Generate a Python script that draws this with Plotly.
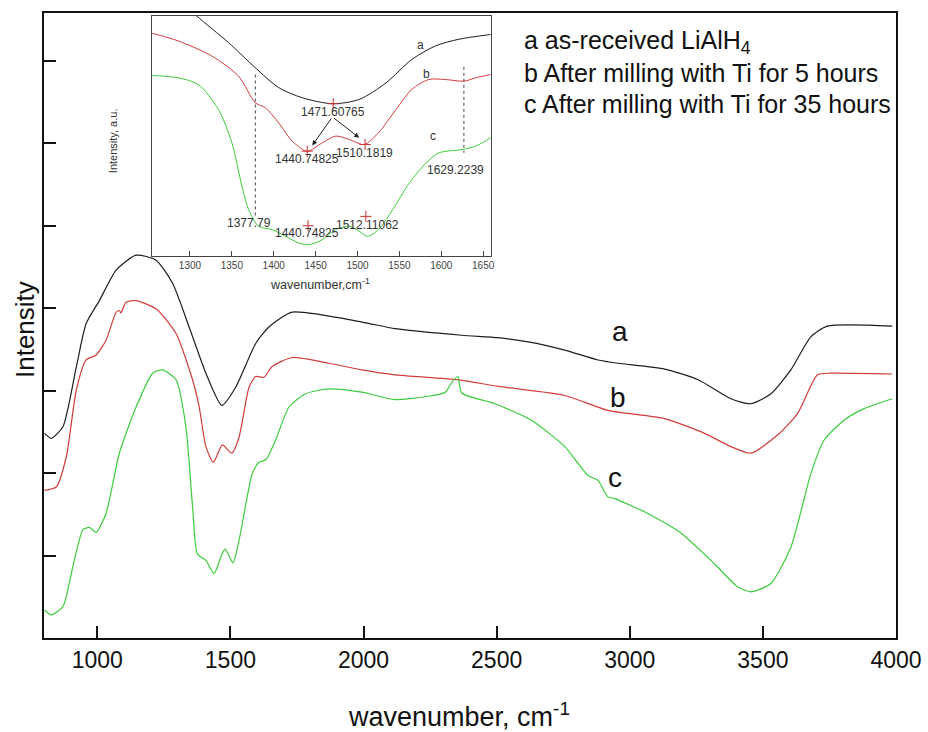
import plotly.graph_objects as go

# ---------------- main spectra (wavenumber cm-1, arbitrary intensity) ----------------
wn_a = [802, 827, 871, 921, 958, 1008, 1071, 1146, 1221, 1283, 1345, 1408, 1468, 1520, 1595,
        1645, 1732, 1994, 2119, 2369, 2506, 2619, 2756, 2881, 2956, 3131, 3257, 3380, 3455,
        3530, 3605, 3680, 3742, 3986]
int_a = [2.48, 2.42, 2.56, 3.28, 3.81, 4.09, 4.46, 4.64, 4.58, 4.30, 3.77, 3.21, 2.82, 3.04, 3.57,
         3.77, 3.95, 3.83, 3.75, 3.67, 3.64, 3.59, 3.49, 3.37, 3.33, 3.26, 3.13, 2.90, 2.84,
         2.96, 3.25, 3.65, 3.78, 3.78]

wn_b = [802, 846, 884, 921, 958, 996, 1033, 1071, 1083, 1089, 1108, 1146, 1221, 1296, 1358,
        1383, 1408, 1436, 1470, 1505, 1533, 1570, 1595, 1626, 1657, 1732, 1870, 1994, 2119,
        2357, 2506, 2756, 2918, 3131, 3281, 3380, 3455, 3555, 3630, 3705, 3755, 3986]
int_b = [1.79, 1.83, 2.20, 3.00, 3.37, 3.43, 3.61, 3.95, 3.97, 3.94, 4.07, 4.09, 3.99, 3.69, 3.13,
         2.80, 2.32, 2.13, 2.34, 2.24, 2.44, 3.04, 3.17, 3.16, 3.29, 3.40, 3.33, 3.25, 3.19,
         3.13, 3.05, 2.94, 2.76, 2.66, 2.48, 2.32, 2.24, 2.46, 2.72, 3.19, 3.21, 3.20]

wn_c = [802, 827, 871, 908, 946, 970, 996, 1033, 1083, 1146, 1208, 1245, 1296, 1333, 1358, 1376,
        1408, 1439, 1464, 1480, 1510, 1533, 1582, 1607, 1633, 1670, 1720, 1782, 1870, 1994,
        2119, 2244, 2307, 2332, 2354, 2369, 2494, 2631, 2756, 2843, 2881, 2918, 2943, 3068,
        3193, 3318, 3405, 3455, 3530, 3605, 3680, 3730, 3805, 3880, 3986]
int_c = [0.34, 0.28, 0.38, 0.86, 1.31, 1.34, 1.28, 1.51, 2.24, 2.80, 3.21, 3.25, 3.13, 2.56, 1.59, 1.02,
         0.94, 0.78, 0.98, 1.08, 0.91, 1.19, 1.99, 2.13, 2.16, 2.40, 2.80, 2.96, 3.02, 2.98,
         2.89, 2.93, 2.98, 3.10, 3.17, 2.97, 2.84, 2.64, 2.32, 1.97, 1.91, 1.71, 1.69, 1.51,
         1.27, 0.90, 0.62, 0.56, 0.66, 1.10, 1.99, 2.40, 2.64, 2.78, 2.90]

curve_labels = ["a", "b", "c"]
curve_label_wn = [2963, 2956, 2945]
curve_label_int = [3.71, 2.92, 1.94]

x_ticks = [1000, 1500, 2000, 2500, 3000, 3500, 4000]
y_ticks = [1, 2, 3, 4, 5, 6, 7]

legend_lines = ["a as-received LiAlH<sub>4</sub>",
                "b After milling with Ti for 5 hours",
                "c After milling with Ti for 35 hours"]

# ---------------- inset (zoom 1255-1660 cm-1) ----------------
in_wn_a = [1290, 1308, 1346, 1378, 1406, 1434, 1470, 1502, 1534, 1565, 1593, 1621, 1659]
in_int_a = [106, 100, 88.9, 78.4, 70.1, 65.9, 63.4, 65.2, 72.1, 81.9, 87.5, 90.3, 92.3]

in_wn_b = [1255, 1286, 1326, 1358, 1378, 1390, 1406, 1422, 1440, 1458, 1474, 1490, 1508,
           1525, 1546, 1565, 1585, 1605, 1627, 1641, 1659]
in_int_b = [92.8, 89.6, 83.3, 74.9, 63.8, 61.7, 55.4, 47.8, 43.6, 47.1, 49.9, 48.5, 46.4,
            51.3, 61.0, 69.4, 73.5, 73.5, 72.8, 74.2, 75.6]

in_wn_c = [1255, 1286, 1310, 1334, 1350, 1362, 1370, 1382, 1398, 1414, 1430, 1442, 1458,
           1474, 1490, 1502, 1512, 1525, 1542, 1562, 1582, 1597, 1625, 1641, 1659]
in_int_c = [75.2, 74.2, 71.4, 61.0, 47.1, 29.0, 19.2, 12.3, 10.9, 8.1, 5.3, 4.6, 6.7,
            10.9, 12.3, 10.2, 8.1, 10.9, 19.2, 30.4, 38.7, 42.9, 44.3, 45.7, 49.2]

peak_wn = [1471, 1440, 1509, 1441, 1510]
peak_int = [63.4, 43.6, 46.4, 12.5, 16.4]

peak_text = ["1471.60765", "1440.74825", "1510.1819", "1629.2239", "1377.79", "1440.74825", "1512.11062"]
peak_text_wn = [1471, 1440, 1508, 1617, 1370, 1440, 1512]
peak_text_int = [59.9, 40.4, 42.9, 35.9, 13.6, 9.5, 13.0]

dash1_wn = [1378, 1378]
dash1_int = [75.6, 16.4]
dash2_wn = [1627, 1627]
dash2_int = [78.8, 42.9]

arrow_from = (1470, 57.9)
arrow_to_wn = [1446, 1502]
arrow_to_int = [46.0, 49.2]

in_labels = ["a", "b", "c"]
in_label_wn = [1575, 1582, 1590]
in_label_int = [87.7, 75.6, 49.9]

in_x_ticks = [1300, 1350, 1400, 1450, 1500, 1550, 1600, 1650]

BLACK = "#1e1e1e"
RED = "#d23c3c"
GREEN = "#3ccc3c"
FONT = "Liberation Sans, Arial, sans-serif"

fig = go.Figure()
for x, y, c in [(wn_a, int_a, BLACK), (wn_b, int_b, RED), (wn_c, int_c, GREEN)]:
    fig.add_trace(go.Scatter(x=x, y=y, mode="lines", line=dict(color=c, width=1.2, shape="spline", smoothing=0.6),
                             xaxis="x", yaxis="y", showlegend=False, hoverinfo="skip"))

for x, y, c in [(in_wn_a, in_int_a, BLACK), (in_wn_b, in_int_b, RED), (in_wn_c, in_int_c, GREEN)]:
    fig.add_trace(go.Scatter(x=x, y=y, mode="lines", line=dict(color=c, width=1, shape="spline", smoothing=0.8),
                             xaxis="x2", yaxis="y2", showlegend=False, hoverinfo="skip"))

for x, y in [(dash1_wn, dash1_int), (dash2_wn, dash2_int)]:
    fig.add_trace(go.Scatter(x=x, y=y, mode="lines", line=dict(color="#444", width=1, dash="dot"),
                             xaxis="x2", yaxis="y2", showlegend=False, hoverinfo="skip"))

fig.add_trace(go.Scatter(x=peak_wn, y=peak_int, mode="markers",
                         marker=dict(symbol="cross-thin", size=8, line=dict(color="#d03030", width=1)),
                         xaxis="x2", yaxis="y2", showlegend=False, hoverinfo="skip"))

ann = []
for t, x, y in zip(curve_labels, curve_label_wn, curve_label_int):
    ann.append(dict(text=t, x=x, y=y, xref="x", yref="y", showarrow=False,
                    font=dict(size=28, color="#111", family=FONT)))
for t, x, y in zip(peak_text, peak_text_wn, peak_text_int):
    ann.append(dict(text=t, x=x, y=y, xref="x2", yref="y2", showarrow=False,
                    font=dict(size=12, color="#333", family=FONT)))
for t, x, y in zip(in_labels, in_label_wn, in_label_int):
    ann.append(dict(text=t, x=x, y=y, xref="x2", yref="y2", showarrow=False,
                    font=dict(size=12, color="#333", family=FONT)))
for x, y in zip(arrow_to_wn, arrow_to_int):
    ann.append(dict(text="", x=x, y=y, xref="x2", yref="y2", ax=arrow_from[0], ay=arrow_from[1],
                    axref="x2", ayref="y2", showarrow=True, arrowhead=2, arrowsize=1,
                    arrowwidth=1, arrowcolor="#222"))

legend_y = [0.9536, 0.904, 0.8544]
for t, y in zip(legend_lines, legend_y):
    ann.append(dict(text=t, x=0.561, y=y, xref="paper", yref="paper", xanchor="left", yanchor="middle",
                    showarrow=False, font=dict(size=25, color="#111", family=FONT)))

ann.append(dict(text="wavenumber, cm<sup>-1</sup>", x=0.487, y=-0.1232, xref="paper", yref="paper",
                xanchor="center", yanchor="middle", showarrow=False,
                font=dict(size=27, color="#111", family=FONT)))
ann.append(dict(text="Intensity", x=-0.0223, y=0.4928, xref="paper", yref="paper", textangle=-90,
                xanchor="center", yanchor="middle", showarrow=False,
                font=dict(size=26, color="#111", family=FONT)))
ann.append(dict(text="wavenumber,cm<sup>-1</sup>", x=0.3245, y=0.566, xref="paper", yref="paper",
                xanchor="center", yanchor="middle", showarrow=False,
                font=dict(size=12.5, color="#333", family=FONT)))
ann.append(dict(text="Intensity, a.u.", x=0.081, y=0.795, xref="paper", yref="paper", textangle=-90,
                xanchor="center", yanchor="middle", showarrow=False,
                font=dict(size=11, color="#333", family=FONT)))

fig.update_layout(
    width=928, height=732,
    margin=dict(l=44, r=32, t=13, b=94),
    paper_bgcolor="white", plot_bgcolor="white",
    font=dict(family=FONT, color="#111"),
    annotations=ann,
    xaxis=dict(range=[800, 4000], tickvals=x_ticks, ticks="inside", ticklen=12, tickwidth=2,
               tickcolor="#111", showline=True, linewidth=2, linecolor="#111", mirror=True,
               showgrid=False, zeroline=False, automargin=False,
               tickfont=dict(size=23, color="#111", family=FONT)),
    yaxis=dict(range=[0, 7.576], tickvals=y_ticks, showticklabels=False, ticks="inside", ticklen=12,
               tickwidth=2, tickcolor="#111", showline=True, linewidth=2, linecolor="#111", mirror=True,
               showgrid=False, zeroline=False, automargin=False),
    xaxis2=dict(domain=[0.1271, 0.5243], anchor="y2", range=[1255, 1659], tickvals=in_x_ticks,
                ticks="inside", ticklen=5, tickwidth=1, tickcolor="#444", showline=True, linewidth=1,
                linecolor="#444", mirror=True, showgrid=False, zeroline=False,
                tickfont=dict(size=10, color="#444", family=FONT)),
    yaxis2=dict(domain=[0.6117, 0.9952], anchor="x2", range=[0, 100], showticklabels=False, ticks="",
                showline=True, linewidth=1, linecolor="#444", mirror=True, showgrid=False, zeroline=False),
)

fig.write_html("out.html", config={"displayModeBar": False},
               post_script="document.body.style.margin='0';document.body.style.overflow='hidden';")
